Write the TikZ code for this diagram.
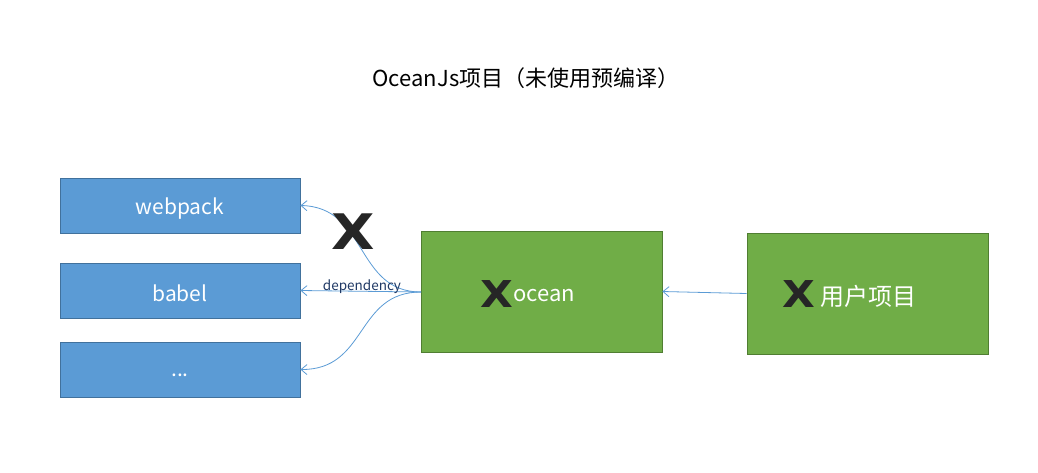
\documentclass[tikz,border=0pt]{standalone}
\usepackage{fontspec}
\usepackage{graphicx}
\setmainfont{Noto Sans CJK SC}
\newfontfamily\xfont{DejaVu Sans}
\usetikzlibrary{arrows.meta}
\definecolor{bluefill}{HTML}{5B9BD5}
\definecolor{blueline}{HTML}{41719C}
\definecolor{greenfill}{HTML}{70AD47}
\definecolor{greenline}{HTML}{507E32}
\definecolor{xdark}{HTML}{262626}
\definecolor{navy}{HTML}{1F3864}
\newcommand{\wideX}{\scalebox{1.15}[1]{X}}
\tikzset{
  bluebox/.style={draw=blueline, fill=bluefill, line width=0.8pt, minimum width=240pt, minimum height=55pt, inner sep=0pt},
  greenbox/.style={draw=greenline, fill=greenfill, line width=0.8pt, minimum width=241pt, minimum height=121pt, inner sep=0pt},
  conn/.style={draw=bluefill, line width=0.8pt, -{Straight Barb[length=6pt,width=10pt]}},
  bigx/.style={text=xdark, inner sep=0pt, font=\xfont\fontsize{#1}{#1}\selectfont\bfseries},
  lbl/.style={text=white, inner sep=0pt},
}
\begin{document}
\begin{tikzpicture}[x=1pt,y=-1pt]
\useasboundingbox (0,0) rectangle (1038,472);
\node[font=\fontsize{22}{26}\selectfont, text=black] (title) at (526,78) {OceanJs项目（未使用预编译）};
\node[bluebox] (webpack) at (180,205.5) {};
\node[bluebox] (babel) at (180,290.5) {};
\node[bluebox] (dots) at (180,369.5) {};
\node[lbl, font=\fontsize{21}{24}\selectfont] (t1) at (180,208.5) {webpack};
\node[lbl, font=\fontsize{21}{24}\selectfont] (t2) at (180,293) {babel};
\node[lbl, font=\fontsize{21}{24}\selectfont] (t3) at (180,375) {...};
\node[greenbox] (ocean) at (541.5,291.5) {};
\node[greenbox] (user) at (867.5,293.5) {};
\coordinate (os) at (421,292);
\draw[conn] (os) .. controls (355,292) and (368,207) .. (webpack.east);
\draw[conn] (os) -- (babel.east);
\draw[conn] (os) .. controls (355,292) and (368,370) .. (dots.east);
\draw[conn] (user.west) -- (ocean.east);
\node[text=navy, font=\fontsize{13.5}{15}\selectfont, inner sep=1pt] (dep) at (362,287) {dependency};
\node[bigx=49] (x1) at (353.5,232) {\wideX};
\node[bigx=37, anchor=east] (x2) at (513,294) {\wideX};
\node[anchor=west, font=\fontsize{22}{24}\selectfont, lbl] (oceanlbl) at (513,296) {ocean};
\node[bigx=37, anchor=west] (x3) at (782,294) {\wideX};
\node[anchor=west, font=\fontsize{24}{26}\selectfont, lbl] (userlbl) at (820,296) {用户项目};
\end{tikzpicture}
\end{document}
